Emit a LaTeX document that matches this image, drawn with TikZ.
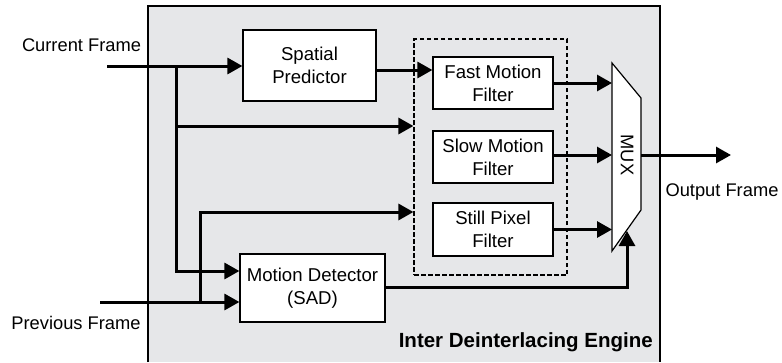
\documentclass[tikz,border=0pt]{standalone}
\usepackage{fontspec}
\setmainfont{Liberation Sans}
\usetikzlibrary{arrows.meta}
\definecolor{enginegray}{HTML}{E6E7E9}
\begin{document}
\begin{tikzpicture}[x=1pt,y=-1pt,
  box/.style={draw,fill=white,line width=1.2pt,align=center,inner sep=0pt,
    font=\fontsize{18.6}{23}\selectfont},
  conn/.style={line width=3pt,-{Triangle[length=15pt,width=16pt]}},
  lbl/.style={font=\fontsize{18.3}{23}\selectfont,inner sep=0pt}]
\useasboundingbox (0,0) rectangle (782,362);
% engine
\fill[enginegray] (148,6) rectangle (660,362);
\draw[line width=1.2pt] (148,362) -- (148,6) -- (660,6) -- (660,362);
\node[font=\fontsize{20.5}{24}\selectfont\bfseries,anchor=east,inner sep=0pt] (eng) at (653,342) {Inter Deinterlacing Engine};
% dashed group
\node[draw,dash pattern=on 4.5pt off 2.5pt,line width=1.1pt,minimum width=153pt,minimum height=236pt,inner sep=0pt] (grp) at (490.5,157) {};
% boxes
\node[box,minimum width=133pt,minimum height=71pt] (sp) at (309.5,65.5) {Spatial\\Predictor};
\node[box,minimum width=120pt,minimum height=52pt] (fm) at (493,83) {Fast Motion\\Filter};
\node[box,minimum width=120pt,minimum height=52pt] (sm) at (493,157) {Slow Motion\\Filter};
\node[box,minimum width=120pt,minimum height=53pt] (st) at (493,229.5) {Still Pixel\\Filter};
\node[box,minimum width=145pt,minimum height=68pt] (md) at (312.5,288) {Motion Detector\\(SAD)};
% MUX
\coordinate (m1) at (612,63);
\coordinate (m2) at (641,98);
\coordinate (m3) at (641,210);
\coordinate (m4) at (612,251);
\draw[fill=white,line width=1.2pt] (m1) -- (m2) -- (m3) -- (m4) -- cycle;
\node[lbl,rotate=-90] (mux) at (627,155) {MUX};
\coordinate (msel) at (627,231);
% labels
\node[lbl] (cf) at (81.5,45) {Current Frame};
\node[lbl] (pf) at (76,323) {Previous Frame};
\node[lbl] (of) at (722,192) {Output Frame};
% inputs
\coordinate (cin) at (107,66);
\coordinate (pin) at (100,302);
\coordinate (b1) at (176,66);
\coordinate (b2) at (200,302);
\coordinate (out) at (731,155);
\draw[conn] (cin) -- (sp.west |- cin);
\draw[conn] (b1) |- ([yshift=17pt]md.west);
\draw[conn] (pin) -- ([yshift=-14pt]md.west);
\draw[conn] (b1 |- 0,126) -- (grp.west |- 0,126);
\draw[conn] (b2) |- (grp.west |- 0,212);
\draw[conn] (sp.east |- 0,70) -- (fm.west |- 0,70);
% to mux
\draw[conn] (fm.east) -- (fm.east -| m1);
\draw[conn] (sm.east |- 0,155) -- (m1 |- 0,155);
\draw[conn] (st.east) -- (st.east -| m1);
\draw[conn] ([yshift=1pt]md.east) -| (msel);
\draw[conn] (m2 |- 0,155) -- (out);
\end{tikzpicture}
\end{document}
